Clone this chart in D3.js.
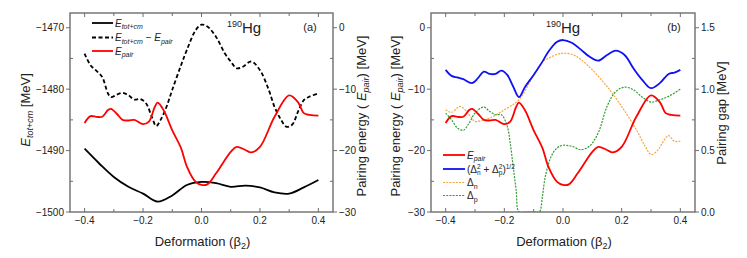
<!DOCTYPE html>
<html>
<head>
<meta charset="utf-8">
<script src="https://cdn.jsdelivr.net/npm/d3@7"></script>
<style>
  body { margin: 0; background: #fff; }
  text { font-family: "Liberation Sans", Arial, sans-serif; fill: #222; }
</style>
</head>
<body>
<div id="chart"></div>
<script>
// deformation grid for panel (a) curves
var betaTot = [-0.4, -0.35, -0.3, -0.25, -0.2, -0.15, -0.1, -0.05, 0, 0.05, 0.1, 0.15, 0.2, 0.25, 0.3, 0.35, 0.4];
var eTot = [-1489.7, -1492.1, -1494.3, -1495.9, -1497.0, -1498.3, -1497.3, -1495.6, -1495.1, -1495.3, -1495.9, -1495.7, -1496.0, -1496.8, -1497.0, -1496.0, -1494.8];

var betaDiff = [-0.4, -0.38, -0.36, -0.34, -0.32, -0.31, -0.29, -0.27, -0.25, -0.23, -0.21, -0.19, -0.17, -0.155, -0.14, -0.12, -0.1, -0.07, -0.05, -0.02, 0, 0.02, 0.05, 0.08, 0.1, 0.12, 0.14, 0.17, 0.2, 0.23, 0.25, 0.27, 0.29, 0.31, 0.33, 0.35, 0.37, 0.4];
var eDiff = [-1474.2, -1476.1, -1477.0, -1478.0, -1480.7, -1481.3, -1480.9, -1480.6, -1481.0, -1481.7, -1481.6, -1482.3, -1484.5, -1486.0, -1485.0, -1482.9, -1480.1, -1476.1, -1473.6, -1470.4, -1469.5, -1469.8, -1471.5, -1474.2, -1475.5, -1476.6, -1476.4, -1475.5, -1476.9, -1480.1, -1482.9, -1484.8, -1486.1, -1485.8, -1483.7, -1481.8, -1481.2, -1480.7];

var betaPair = [-0.4, -0.38, -0.36, -0.34, -0.32, -0.31, -0.29, -0.27, -0.25, -0.23, -0.2, -0.18, -0.16, -0.15, -0.13, -0.1, -0.07, -0.05, -0.02, 0, 0.02, 0.05, 0.1, 0.12, 0.15, 0.17, 0.2, 0.25, 0.3, 0.33, 0.35, 0.37, 0.4];
var ePair = [-15.5, -14.4, -14.5, -14.5, -13.4, -13.2, -14.0, -15.0, -15.1, -15.0, -15.7, -15.3, -12.9, -12.2, -13.4, -16.7, -19.6, -22.6, -25.1, -25.6, -25.5, -23.7, -20.2, -19.4, -19.9, -20.3, -19.4, -14.5, -11.0, -12.1, -13.9, -14.2, -14.3];

// panel (b) gaps
var betaGap = [-0.4, -0.38, -0.36, -0.34, -0.31, -0.29, -0.27, -0.25, -0.23, -0.21, -0.19, -0.17, -0.15, -0.13, -0.1, -0.07, -0.05, -0.02, 0, 0.03, 0.06, 0.09, 0.12, 0.15, 0.18, 0.21, 0.24, 0.27, 0.3, 0.33, 0.36, 0.38, 0.4];
var gapTot = [1.157, 1.108, 1.095, 1.081, 1.049, 1.089, 1.143, 1.124, 1.124, 1.151, 1.116, 1.022, 0.935, 1.016, 1.116, 1.224, 1.305, 1.386, 1.400, 1.378, 1.324, 1.265, 1.232, 1.278, 1.314, 1.278, 1.170, 1.076, 1.008, 1.049, 1.124, 1.135, 1.157];

var betaN = [-0.4, -0.38, -0.35, -0.32, -0.3, -0.27, -0.25, -0.2, -0.15, -0.1, -0.07, -0.05, -0.02, 0, 0.03, 0.06, 0.1, 0.15, 0.2, 0.25, 0.28, 0.3, 0.32, 0.35, 0.36, 0.38, 0.4];
var gapN = [0.832, 0.811, 0.859, 0.792, 0.738, 0.751, 0.765, 0.832, 0.914, 1.116, 1.224, 1.251, 1.284, 1.292, 1.284, 1.243, 1.157, 1.022, 0.859, 0.670, 0.535, 0.468, 0.495, 0.603, 0.622, 0.576, 0.576];

var betaP = [-0.4, -0.38, -0.36, -0.34, -0.32, -0.3, -0.27, -0.25, -0.23, -0.21, -0.19, -0.18, -0.17, -0.16, -0.15, -0.13, -0.11, -0.09, -0.08, -0.07, -0.06, -0.04, -0.02, 0, 0.03, 0.06, 0.09, 0.12, 0.15, 0.18, 0.21, 0.24, 0.27, 0.3, 0.33, 0.36, 0.4];
var gapP = [0.805, 0.751, 0.684, 0.665, 0.724, 0.805, 0.854, 0.819, 0.792, 0.792, 0.697, 0.562, 0.373, 0.184, 0.0, 0.0, 0.0, 0.0, 0.0, 0.130, 0.292, 0.454, 0.522, 0.543, 0.535, 0.508, 0.535, 0.643, 0.859, 0.981, 1.016, 0.995, 0.935, 0.895, 0.914, 0.941, 1.0];

var xTicks = [-0.4, -0.2, 0.0, 0.2, 0.4];
var xMinor = [-0.3, -0.1, 0.1, 0.3];
var totTicks = [-1500, -1490, -1480, -1470];
var pairTicks = [-30, -20, -10, 0];
var gapTicks = [0.0, 0.5, 1.0, 1.5];

var W = 747, H = 258;
var svg = d3.select('#chart').append('svg')
  .attr('width', W).attr('height', H);

var frameColor = '#6e6e6e';

function addClip(id, x0, x1, y0, y1) {
  svg.append('clipPath').attr('id', id).append('rect')
    .attr('x', x0).attr('y', y0).attr('width', x1 - x0).attr('height', y1 - y0);
}

function frame(x0, x1, y0, y1) {
  svg.append('rect')
    .attr('x', x0).attr('y', y0).attr('width', x1 - x0).attr('height', y1 - y0)
    .attr('fill', 'none').attr('stroke', frameColor).attr('stroke-width', 1.4);
}

function xAxis(x, y0, y1) {
  xTicks.concat(xMinor).forEach(function(t) {
    var len = xTicks.indexOf(t) >= 0 ? 4 : 3;
    svg.append('line').attr('x1', x(t)).attr('x2', x(t))
      .attr('y1', y1).attr('y2', y1 - len).attr('stroke', frameColor);
    svg.append('line').attr('x1', x(t)).attr('x2', x(t))
      .attr('y1', y0).attr('y2', y0 + len).attr('stroke', frameColor);
  });
  xTicks.forEach(function(t) {
    svg.append('text').attr('x', x(t)).attr('y', y1 + 12)
      .attr('text-anchor', 'middle').attr('font-size', '10px')
      .text(d3.format('.1f')(t).replace('-', '\u2212'));
  });
  var cx = (x.range()[0] + x.range()[1]) / 2;
  var t = svg.append('text').attr('x', cx + 1).attr('y', 246)
    .attr('text-anchor', 'middle').attr('font-size', '13px');
  t.append('tspan').text('Deformation (\u03b2');
  t.append('tspan').attr('font-size', '9px').attr('dy', 3).text('2');
  t.append('tspan').attr('dy', -3).text(')');
}

function yAxis(y, ticks, xpos, side, fmt) {
  var dir = side == 'left' ? -1 : 1;
  ticks.forEach(function(t, i) {
    svg.append('line').attr('x1', xpos).attr('x2', xpos + dir * 4)
      .attr('y1', y(t)).attr('y2', y(t)).attr('stroke', frameColor);
    svg.append('text').attr('x', xpos + dir * 6).attr('y', y(t) + 3.5)
      .attr('text-anchor', side == 'left' ? 'end' : 'start')
      .attr('font-size', '10px')
      .text(fmt(t).replace('-', '\u2212'));
    if (i < ticks.length - 1) {
      var m = (t + ticks[i + 1]) / 2;
      svg.append('line').attr('x1', xpos).attr('x2', xpos - dir * 3)
        .attr('y1', y(m)).attr('y2', y(m)).attr('stroke', frameColor);
    }
  });
}

function curve(x, y, xs, ys, clip, color, width, dash) {
  var line = d3.line()
    .x(function(d, i) { return x(xs[i]); })
    .y(function(d) { return y(d); })
    .curve(d3.curveCatmullRom.alpha(0.5));
  var p = svg.append('path').datum(ys)
    .attr('d', line)
    .attr('fill', 'none')
    .attr('stroke', color)
    .attr('stroke-width', width)
    .attr('clip-path', 'url(#' + clip + ')');
  if (dash) p.attr('stroke-dasharray', dash);
}

function vtitle(x, y, parts) {
  var t = svg.append('text')
    .attr('transform', 'translate(' + x + ',' + y + ') rotate(-90)')
    .attr('text-anchor', 'middle').attr('font-size', '13px');
  parts.forEach(function(p) {
    var s = t.append('tspan').text(p.t);
    if (p.i) s.attr('font-style', 'italic');
    if (p.sub) s.attr('font-size', '9px').attr('dy', 3);
    if (p.up) s.attr('dy', -3);
  });
}

function isotope(x, y) {
  var t = svg.append('text').attr('x', x).attr('y', y).attr('font-size', '15px');
  t.append('tspan').attr('font-size', '9px').attr('dy', -6).text('190');
  t.append('tspan').attr('dy', 6).text('Hg');
}

function legendLabel(x, y, main, sub, rest, restSub) {
  var t = svg.append('text').attr('x', x).attr('y', y + 3.5).attr('font-size', '10px');
  t.append('tspan').attr('font-style', 'italic').text(main);
  t.append('tspan').attr('font-style', 'italic').attr('font-size', '7px').attr('dy', 2.5).text(sub);
  if (rest) {
    t.append('tspan').attr('dy', -2.5).text(' \u2212 ');
    t.append('tspan').attr('font-style', 'italic').text(rest);
    t.append('tspan').attr('font-style', 'italic').attr('font-size', '7px').attr('dy', 2.5).text(restSub);
  }
}

// ---------- panel (a)
var xa = d3.scaleLinear().domain([-0.45, 0.45]).range([70, 333]);
var yaTot = d3.scaleLinear().domain([-1500, -1467.6]).range([212, 13]);
var yaPair = d3.scaleLinear().domain([-30, 2.4]).range([212, 13]);
addClip('clipA', 70, 333, 13, 212);

curve(xa, yaTot, betaTot, eTot, 'clipA', '#000', 1.8);
curve(xa, yaTot, betaDiff, eDiff, 'clipA', '#000', 1.8, '4,2.5');
curve(xa, yaPair, betaPair, ePair, 'clipA', '#f00', 1.8);

frame(70, 333, 13, 212);
xAxis(xa, 13, 212);
yAxis(yaTot, totTicks, 70, 'left', d3.format('d'));
yAxis(yaPair, pairTicks, 333, 'right', d3.format('d'));
vtitle(30, 110, [{t: 'E', i: 1}, {t: 'tot+cm', i: 1, sub: 1}, {t: ' [MeV]', up: 1}]);
vtitle(366, 116, [{t: 'Pairing energy ( '}, {t: 'E', i: 1}, {t: 'pair', i: 1, sub: 1}, {t: ') [MeV]', up: 1}]);
isotope(227, 33);
svg.append('text').attr('x', 310).attr('y', 31).attr('text-anchor', 'middle')
  .attr('font-size', '11px').text('(a)');

var legA = [
  {y: 23, color: '#000', dash: null},
  {y: 37.5, color: '#000', dash: '4,2.5'},
  {y: 51, color: '#f00', dash: null}
];
legA.forEach(function(d) {
  var l = svg.append('line').attr('x1', 92).attr('x2', 113).attr('y1', d.y).attr('y2', d.y)
    .attr('stroke', d.color).attr('stroke-width', 1.8);
  if (d.dash) l.attr('stroke-dasharray', d.dash);
});
legendLabel(115, 23, 'E', 'tot+cm');
legendLabel(115, 37.5, 'E', 'tot+cm', 'E', 'pair');
legendLabel(115, 51, 'E', 'pair');

// ---------- panel (b)
var xb = d3.scaleLinear().domain([-0.45, 0.45]).range([431, 695]);
var ybPair = d3.scaleLinear().domain([-30, 2.4]).range([212, 13]);
var ybGap = d3.scaleLinear().domain([0, 1.62]).range([212, 13]);
addClip('clipB', 431, 695, 13, 212);

curve(xb, ybGap, betaN, gapN, 'clipB', '#f7a440', 1.2, '2,1.2');
curve(xb, ybGap, betaP, gapP, 'clipB', '#2f9e2f', 1.2, '2,1.2');
curve(xb, ybGap, betaGap, gapTot, 'clipB', '#1010f5', 1.8);
curve(xb, ybPair, betaPair, ePair, 'clipB', '#f00', 1.8);

frame(431, 695, 13, 212);
xAxis(xb, 13, 212);
yAxis(ybPair, pairTicks, 431, 'left', d3.format('d'));
yAxis(ybGap, gapTicks, 695, 'right', d3.format('.1f'));
vtitle(400, 116, [{t: 'Pairing energy ( '}, {t: 'E', i: 1}, {t: 'pair', i: 1, sub: 1}, {t: ') [MeV]', up: 1}]);
vtitle(726, 113, [{t: 'Pairing gap [MeV]'}]);
isotope(546, 33);
svg.append('text').attr('x', 674).attr('y', 31).attr('text-anchor', 'middle')
  .attr('font-size', '11px').text('(b)');

var legB = [
  {y: 155, color: '#f00', w: 1.8, dash: null},
  {y: 169, color: '#1010f5', w: 1.8, dash: null},
  {y: 182.5, color: '#f7a440', w: 1.2, dash: '2,1.2'},
  {y: 195.5, color: '#2f9e2f', w: 1.2, dash: '2,1.2'}
];
legB.forEach(function(d) {
  var l = svg.append('line').attr('x1', 443).attr('x2', 465).attr('y1', d.y).attr('y2', d.y)
    .attr('stroke', d.color).attr('stroke-width', d.w);
  if (d.dash) l.attr('stroke-dasharray', d.dash);
});
legendLabel(467, 155, 'E', 'pair');

var tq = svg.append('text').attr('x', 467).attr('y', 172.5).attr('font-size', '10px');
tq.append('tspan').text('(\u0394');
tq.append('tspan').attr('font-size', '6.5px').attr('dy', -3.5).text('2');
tq.append('tspan').attr('font-size', '6.5px').attr('dx', -3.6).attr('dy', 6).text('n');
tq.append('tspan').attr('dy', -2.5).text(' + \u0394');
tq.append('tspan').attr('font-size', '6.5px').attr('dy', -3.5).text('2');
tq.append('tspan').attr('font-size', '6.5px').attr('dx', -3.6).attr('dy', 6).text('p');
tq.append('tspan').attr('dy', -2.5).text(')');
tq.append('tspan').attr('font-size', '6.5px').attr('dy', -3.5).text('1/2');

[{y: 182.5, s: 'n'}, {y: 195.5, s: 'p'}].forEach(function(d) {
  var t = svg.append('text').attr('x', 467).attr('y', d.y + 3.5).attr('font-size', '10px');
  t.append('tspan').text('\u0394');
  t.append('tspan').attr('font-size', '7px').attr('dy', 2.5).text(d.s);
});
</script>
</body>
</html>
